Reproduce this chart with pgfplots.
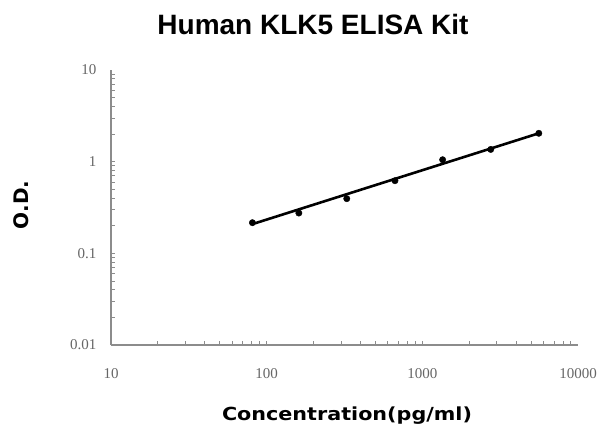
\documentclass[border=0pt]{standalone}
\usepackage{pgfplots}
\pgfplotsset{compat=1.18}
\usepackage{fontspec}
\setmainfont{Liberation Serif}
\newfontfamily\titlefont{Liberation Sans}
\newfontfamily\labelfont{DejaVu Sans}
\definecolor{axgray}{HTML}{8C8C8C}
\definecolor{tickgray}{HTML}{666666}

\begin{document}
\begin{tikzpicture}[x=1pt,y=1pt]
\path[use as bounding box] (0,0) rectangle (610,426);
\begin{axis}[
    at={(111pt,81pt)}, anchor=south west,
    scale only axis, width=467pt, height=275pt,
    xmode=log, ymode=log,
    xmin=10, xmax=10000, ymin=0.01, ymax=10,
    axis x line=bottom, axis y line=left,
    axis line style={axgray, line width=1.2pt, -},
    xtick={10,100,1000,10000}, xticklabels={10,100,1000,10000},
    ytick={0.01,0.1,1,10}, yticklabels={0.01,0.1,1,10},
    tick align=inside,
    major tick length=0pt, minor tick length=4pt,
    minor tick style={axgray, line width=0.8pt},
    ticklabel style={font=\fontsize{15}{17}\selectfont, text=tickgray},
    xticklabel style={yshift=-20pt},
    yticklabel style={xshift=-11pt},
]
% fitted standard curve
\addplot[black, line width=2.6pt, no marks] coordinates {
    (80,0.207) (5600,2.04)
};
% measured standards
\addplot[only marks, mark=*, mark size=3.2pt, black] coordinates {
    (81,0.216) (161,0.275) (327,0.395) (667,0.62)
    (1350,1.05) (2750,1.36) (5600,2.04)
};
\end{axis}
\node[font=\titlefont\bfseries\fontsize{28}{32}\selectfont, anchor=base] at (313,391) {Human KLK5 ELISA Kit};
\node[font=\labelfont\bfseries\fontsize{18}{22}\selectfont, anchor=base, xscale=1.15] at (347,6) {Concentration(pg/ml)};
\node[font=\labelfont\bfseries\fontsize{20}{24}\selectfont, rotate=90] at (21,221) {O.D.};
\end{tikzpicture}
\end{document}
